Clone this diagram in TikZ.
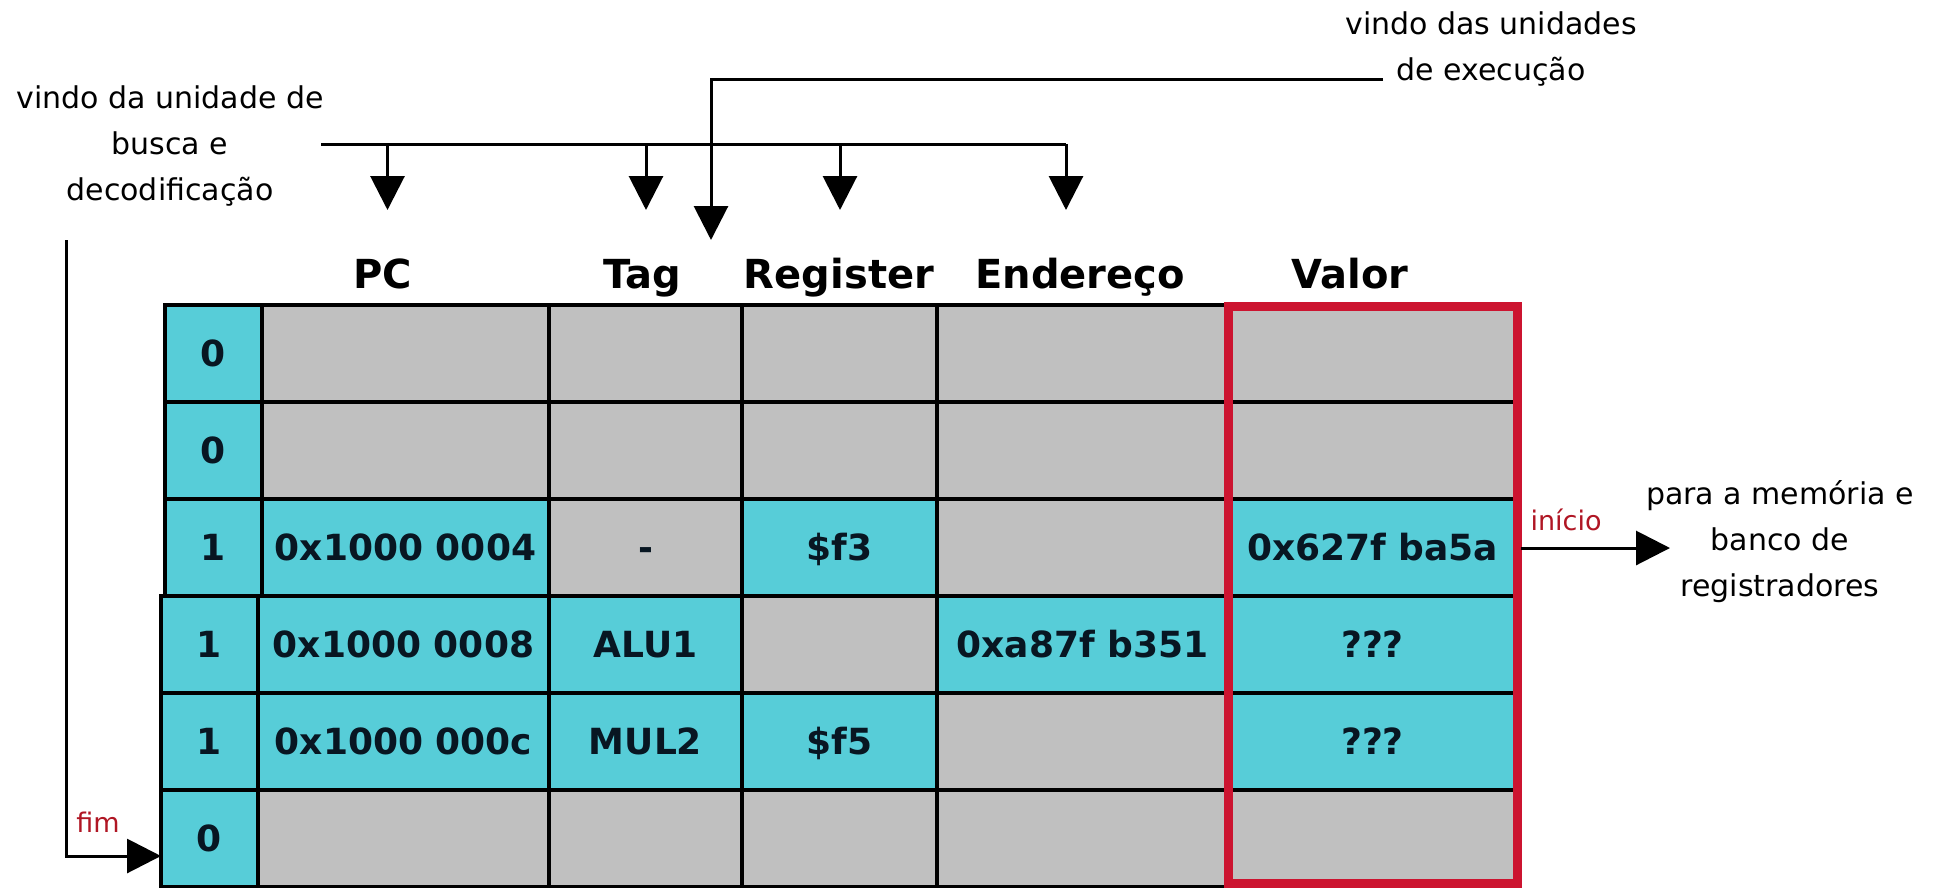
\documentclass[tikz,border=0pt]{standalone}
\usepackage{fontspec}
\setmainfont{DejaVu Sans}
\usetikzlibrary{arrows.meta}
\definecolor{cyanc}{RGB}{87,205,216}
\definecolor{grayc}{RGB}{192,192,192}
\definecolor{redbox}{RGB}{204,20,48}
\definecolor{txt}{RGB}{8,22,34}
\definecolor{redtxt}{RGB}{176,22,36}
\begin{document}
\begin{tikzpicture}[x=1pt,y=-1pt,
  cell/.style={draw=black, line width=3.5pt, rectangle, inner sep=0pt, outer sep=0pt,
    minimum height=97pt, text height=26pt, text depth=0pt, text=txt,
    font=\fontsize{36}{40}\selectfont\bfseries},
  cy/.style={cell, fill=cyanc},
  gr/.style={cell, fill=grayc},
  hdr/.style={font=\fontsize{40}{46}\selectfont\bfseries, inner sep=0pt, anchor=base},
  lbl/.style={font=\fontsize{30}{46}\selectfont, align=center, inner sep=0pt},
  rlbl/.style={font=\fontsize{27}{30}\selectfont, text=redtxt, inner sep=0pt},
  wire/.style={line width=3pt},
  arr/.style={wire, -{Triangle[length=34pt,width=34pt]}},
]
\useasboundingbox (0,0) rectangle (1954,887);

% headers
\node[hdr] (hpc) at (383,288) {PC};
\node[hdr] (htag) at (642,288) {Tag};
\node[hdr] (hreg) at (839,288) {Register};
\node[hdr] (hend) at (1080,288) {Endereço};
\node[hdr] (hval) at (1350,288) {Valor};

% row 1
\node[cy, minimum width=97pt]  (i1) at (213.5,353.5) {0};
\node[gr, minimum width=287pt] (p1) at (405.5,353.5) {};
\node[gr, minimum width=193pt] (t1) at (645.5,353.5) {};
\node[gr, minimum width=195pt] (r1) at (839.5,353.5) {};
\node[gr, minimum width=291pt] (e1) at (1082.5,353.5) {};
\node[gr, minimum width=289pt] (v1) at (1372.5,353.5) {};
% row 2
\node[cy, minimum width=97pt]  (i2) at (213.5,450.5) {0};
\node[gr, minimum width=287pt] (p2) at (405.5,450.5) {};
\node[gr, minimum width=193pt] (t2) at (645.5,450.5) {};
\node[gr, minimum width=195pt] (r2) at (839.5,450.5) {};
\node[gr, minimum width=291pt] (e2) at (1082.5,450.5) {};
\node[gr, minimum width=289pt] (v2) at (1372.5,450.5) {};
% row 3
\node[cy, minimum width=97pt]  (i3) at (213.5,547.5) {1};
\node[cy, minimum width=287pt] (p3) at (405.5,547.5) {0x1000 0004};
\node[gr, minimum width=193pt] (t3) at (645.5,547.5) {-};
\node[cy, minimum width=195pt] (r3) at (839.5,547.5) {\$f3};
\node[gr, minimum width=291pt] (e3) at (1082.5,547.5) {};
\node[cy, minimum width=289pt] (v3) at (1372.5,547.5) {0x627f ba5a};
% row 4
\node[cy, minimum width=97pt]  (i4) at (209.5,644.5) {1};
\node[cy, minimum width=291pt] (p4) at (403.5,644.5) {0x1000 0008};
\node[cy, minimum width=193pt] (t4) at (645.5,644.5) {ALU1};
\node[gr, minimum width=195pt] (r4) at (839.5,644.5) {};
\node[cy, minimum width=291pt] (e4) at (1082.5,644.5) {0xa87f b351};
\node[cy, minimum width=289pt] (v4) at (1372.5,644.5) {???};
% row 5
\node[cy, minimum width=97pt]  (i5) at (209.5,741.5) {1};
\node[cy, minimum width=291pt] (p5) at (403.5,741.5) {0x1000 000c};
\node[cy, minimum width=193pt] (t5) at (645.5,741.5) {MUL2};
\node[cy, minimum width=195pt] (r5) at (839.5,741.5) {\$f5};
\node[gr, minimum width=291pt] (e5) at (1082.5,741.5) {};
\node[cy, minimum width=289pt] (v5) at (1372.5,741.5) {???};
% row 6
\node[cy, minimum width=97pt]  (i6) at (209.5,838.5) {0};
\node[gr, minimum width=291pt] (p6) at (403.5,838.5) {};
\node[gr, minimum width=193pt] (t6) at (645.5,838.5) {};
\node[gr, minimum width=195pt] (r6) at (839.5,838.5) {};
\node[gr, minimum width=291pt] (e6) at (1082.5,838.5) {};
\node[gr, minimum width=289pt] (v6) at (1372.5,838.5) {};

% red frame around Valor column
\draw[redbox, line width=9pt] (1228,306) rectangle (1517,883);

% labels
\node[lbl] (fetch) at (170,146) {vindo da unidade de\\busca e\\decodificação};
\node[lbl] (exec) at (1491,48.5) {vindo das unidades\\de execução};
\node[lbl] (mem) at (1780,542) {para a memória e\\banco de\\registradores};
\node[rlbl] (ini) at (1566,520) {início};
\node[rlbl] (fim) at (98,822) {fim};

% fetch bus
\coordinate (fs) at (321,144);
\coordinate (fe) at (1066,144);
\coordinate (fpc) at (387.5,144);
\coordinate (ftag) at (646,144);
\coordinate (freg) at (840,144);
\coordinate (tpc) at (387.5,210);
\coordinate (ttag) at (646,210);
\coordinate (treg) at (840,210);
\coordinate (tend) at (1066,210);
\draw[wire] (fs) -- (fe);
\draw[arr] (fpc) -- (tpc);
\draw[arr] (ftag) -- (ttag);
\draw[arr] (freg) -- (treg);
\draw[arr] (fe) -- (tend);

% execution bus
\coordinate (es) at (1383,79);
\coordinate (ec) at (711,79);
\coordinate (et) at (711,240);
\draw[arr] (es) -- (ec) -- (et);

% tail pointer
\coordinate (ls) at (66,240);
\coordinate (lc) at (66,856);
\draw[arr] (ls) -- (lc) -- (i6.west |- lc);

% head output
\coordinate (outt) at (1670,548);
\draw[arr] (1521,548) -- (outt);
\end{tikzpicture}
\end{document}
